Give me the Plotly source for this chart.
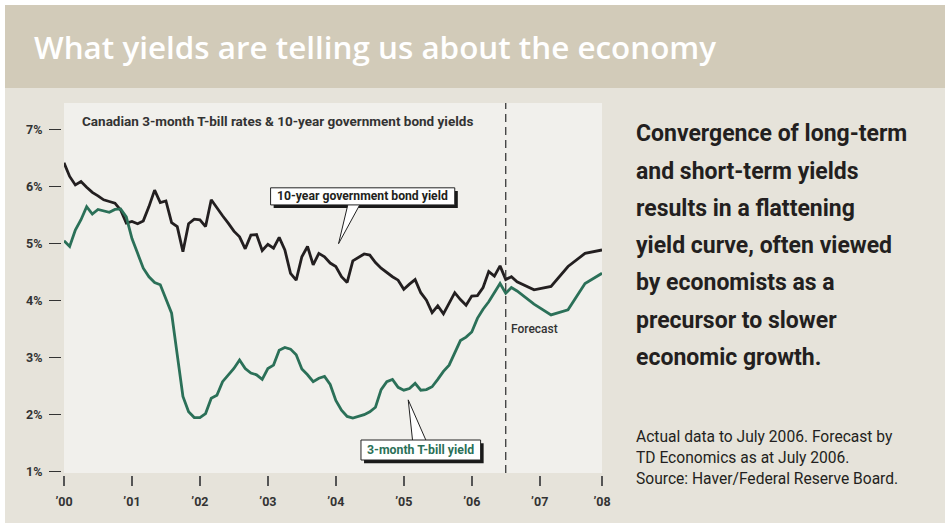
import plotly.graph_objects as go
import pandas as pd

# ---------------- data ----------------
actual_months = [p.strftime("%Y-%m") for p in pd.period_range("2000-01", "2006-07", freq="M")]
forecast_months = ["2006-08", "2006-09", "2006-12", "2007-03", "2007-06", "2007-09", "2007-12"]

bond_10y_actual = [
    6.42, 6.18, 6.03, 6.09, 5.99, 5.90, 5.84, 5.77, 5.74, 5.71, 5.59, 5.36,
    5.39, 5.35, 5.40, 5.65, 5.94, 5.72, 5.75, 5.37, 5.30, 4.86, 5.35, 5.43,
    5.42, 5.30, 5.77, 5.62, 5.49, 5.36, 5.22, 5.12, 4.91, 5.15, 5.16, 4.88,
    4.99, 4.92, 5.11, 4.89, 4.48, 4.36, 4.77, 4.95, 4.63, 4.83, 4.77, 4.66,
    4.60, 4.42, 4.32, 4.70, 4.76, 4.82, 4.80, 4.67, 4.57, 4.49, 4.42, 4.36,
    4.20, 4.29, 4.37, 4.14, 4.01, 3.79, 3.91, 3.77, 3.95, 4.14, 4.02, 3.92,
    4.08, 4.09, 4.23, 4.51, 4.43, 4.61, 4.37,
]
bond_10y_forecast = [4.42, 4.33, 4.19, 4.25, 4.60, 4.83, 4.89]

tbill_3m_actual = [
    5.05, 4.95, 5.24, 5.42, 5.65, 5.52, 5.60, 5.58, 5.55, 5.60, 5.61, 5.47,
    5.09, 4.83, 4.57, 4.42, 4.32, 4.28, 4.04, 3.78, 3.05, 2.32, 2.05, 1.95,
    1.95, 2.02, 2.29, 2.34, 2.58, 2.70, 2.81, 2.96, 2.81, 2.73, 2.70, 2.62,
    2.81, 2.87, 3.13, 3.18, 3.15, 3.05, 2.80, 2.70, 2.58, 2.64, 2.67, 2.53,
    2.25, 2.08, 1.97, 1.94, 1.97, 2.00, 2.05, 2.13, 2.44, 2.58, 2.62, 2.48,
    2.43, 2.46, 2.55, 2.43, 2.44, 2.49, 2.62, 2.76, 2.87, 3.08, 3.30, 3.36,
    3.45, 3.69, 3.85, 3.98, 4.14, 4.30, 4.13,
]
tbill_3m_forecast = [4.23, 4.17, 3.94, 3.75, 3.84, 4.30, 4.48]

y_tick_values = [1, 2, 3, 4, 5, 6, 7]
y_tick_labels = ["1%", "2%", "3%", "4%", "5%", "6%", "7%"]
x_tick_labels = ["\u201900", "\u201901", "\u201902", "\u201903", "\u201904",
                 "\u201905", "\u201906", "\u201907", "\u201908"]
forecast_start = "2006-07"

title_text = "What yields are telling us about the economy"
subtitle_text = "Canadian 3-month T-bill rates & 10-year government bond yields"
side_lines = ["Convergence of long-term", "and short-term yields",
              "results in a flattening", "yield curve, often viewed",
              "by economists as a", "precursor to slower", "economic growth."]
note_lines = ["Actual data to July 2006. Forecast by",
              "TD Economics as at July 2006.",
              "Source: Haver/Federal Reserve Board."]

# ---------------- helpers ----------------
def dec_year(ym):
    y, m = ym.split("-")
    return int(y) + (int(m) - 1) / 12.0

months = actual_months + forecast_months
xs = [dec_year(m) for m in months]
bond = bond_10y_actual + bond_10y_forecast
tbill = tbill_3m_actual + tbill_3m_forecast

W, H = 945, 523
ML, MR, MT, MB = 61, 343, 103, 48
PW = W - ML - MR
PH = H - MT - MB

def px(xp):
    return (xp - ML) / PW

def py(yp):
    return (H - MB - yp) / PH

BLACK = "#231F20"
GREEN = "#2B7058"
BEIGE = "#E6E3DA"
BAND = "#D2CBB9"
PLOTBG = "#F1F0EC"
TXT = "#333333"

fig = go.Figure()
fig.add_trace(go.Scatter(x=xs, y=bond, mode="lines", line=dict(color=BLACK, width=2.8),
                         name="10-year government bond yield", hoverinfo="x+y"))
fig.add_trace(go.Scatter(x=xs, y=tbill, mode="lines", line=dict(color=GREEN, width=2.8),
                         name="3-month T-bill yield", hoverinfo="x+y"))

x_end = dec_year(forecast_months[-1])
x_tick_vals = [2000 + i for i in range(8)] + [x_end]

shapes = []
# white border strips
shapes.append(dict(type="rect", xref="paper", yref="paper", x0=px(0), x1=px(W), y0=py(0), y1=py(5),
                   fillcolor="white", line=dict(width=0), layer="below"))
shapes.append(dict(type="rect", xref="paper", yref="paper", x0=px(0), x1=px(5), y0=py(0), y1=py(H),
                   fillcolor="white", line=dict(width=0), layer="below"))
# title band
shapes.append(dict(type="rect", xref="paper", yref="paper", x0=px(5), x1=px(W), y0=py(5), y1=py(88),
                   fillcolor=BAND, line=dict(width=0), layer="below"))
# forecast dashed line
shapes.append(dict(type="line", xref="x", yref="y domain", x0=dec_year(forecast_start),
                   x1=dec_year(forecast_start), y0=0, y1=1,
                   line=dict(color="#3a3a3a", width=1.3, dash="8px,5px"), layer="above"))

# callout boxes (data coords)
def callout(x0, x1, y0, y1, base_x0, base_x1, base_y, tip_x, tip_y):
    dx, dy = 0.045, 0.055
    out = []
    out.append(dict(type="rect", xref="x", yref="y", x0=x0 + dx, x1=x1 + dx, y0=y0 - dy, y1=y1 - dy,
                    fillcolor="#1a1a1a", line=dict(width=0), layer="above"))
    out.append(dict(type="path", xref="x", yref="y",
                    path=f"M {base_x0} {base_y} L {tip_x} {tip_y} L {base_x1} {base_y} Z",
                    fillcolor="white", line=dict(color="#222", width=1), layer="above"))
    out.append(dict(type="rect", xref="x", yref="y", x0=x0, x1=x1, y0=y0, y1=y1,
                    fillcolor="white", line=dict(color="#222", width=1), layer="above"))
    return out

shapes += callout(2003.04, 2005.75, 5.68, 5.98, 2004.18, 2004.36, 5.70, 2004.04, 5.0)
shapes += callout(2004.37, 2006.13, 1.205, 1.556, 2005.13, 2005.33, 1.54, 2005.065, 2.26)

annotations = []
annotations.append(dict(xref="paper", yref="paper", x=px(32), y=py(47), xanchor="left", yanchor="middle",
                        text=title_text, showarrow=False,
                        font=dict(family="Open Sans", size=31.4, color="white", weight=600)))
annotations.append(dict(xref="paper", yref="paper", x=px(80), y=py(121), xanchor="left", yanchor="middle",
                        text=subtitle_text, showarrow=False,
                        font=dict(family="Roboto", size=13.5, color=TXT, weight="bold")))
annotations.append(dict(xref="paper", yref="paper", x=px(509), y=py(329), xanchor="left", yanchor="middle",
                        text="Forecast", showarrow=False,
                        font=dict(family="Roboto", size=12, color=TXT, weight=500)))
annotations.append(dict(xref="x", yref="y", x=(2003.04 + 2005.75) / 2, y=(5.68 + 5.98) / 2,
                        xanchor="center", yanchor="middle", text="10-year government bond yield",
                        showarrow=False, font=dict(family="Roboto", size=12.2, color=BLACK, weight="bold")))
annotations.append(dict(xref="x", yref="y", x=(2004.37 + 2006.13) / 2, y=(1.205 + 1.556) / 2,
                        xanchor="center", yanchor="middle", text="3-month T-bill yield",
                        showarrow=False, font=dict(family="Roboto", size=12.3, color=GREEN, weight="bold")))
side_y = [133.3, 171.0, 208.3, 245.6, 282.9, 320.2, 357.5]
for t, yy in zip(side_lines, side_y):
    annotations.append(dict(xref="paper", yref="paper", x=px(634), y=py(yy), xanchor="left", yanchor="middle",
                            text=t, showarrow=False,
                            font=dict(family="Roboto", size=23, color=BLACK, weight="bold")))
note_y = [437.3, 458.3, 479.3]
for t, yy in zip(note_lines, note_y):
    annotations.append(dict(xref="paper", yref="paper", x=px(634), y=py(yy), xanchor="left", yanchor="middle",
                            text=t, showarrow=False,
                            font=dict(family="Roboto", size=15.6, color=BLACK)))

fig.update_layout(
    width=W, height=H,
    margin=dict(l=ML, r=MR, t=MT, b=MB, pad=0),
    paper_bgcolor=BEIGE, plot_bgcolor=PLOTBG,
    showlegend=False,
    shapes=shapes, annotations=annotations,
    xaxis=dict(range=[2000, x_end], domain=[3 / PW, 1], anchor="free", position=0,
               tickmode="array", tickvals=x_tick_vals, ticktext=x_tick_labels,
               ticks="outside", ticklen=10, tickwidth=1.5, tickcolor="#555",
               showgrid=False, zeroline=False, showline=False,
               ticklabelstandoff=5,
               tickfont=dict(family="Roboto", size=12.5, color=TXT, weight="bold")),
    yaxis=dict(range=[0.977, 7.468], domain=[2 / PH, 1], anchor="free", position=0,
               tickmode="array", tickvals=y_tick_values, ticktext=y_tick_labels,
               ticks="outside", ticklen=12, tickwidth=1.3, tickcolor=TXT,
               showgrid=False, zeroline=False, showline=False,
               ticklabelstandoff=4,
               tickfont=dict(family="Roboto", size=12.5, color=TXT, weight="bold")),
)

fig.write_html("out.html")
